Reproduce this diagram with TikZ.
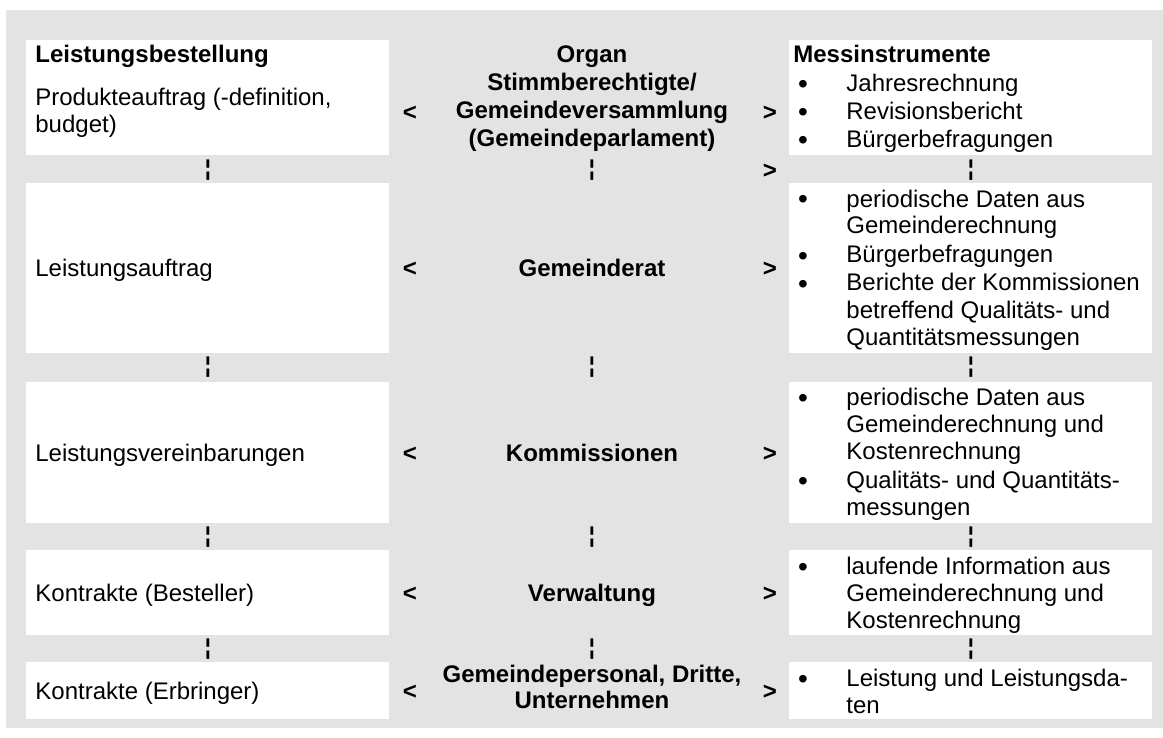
\documentclass[tikz,border=0pt]{standalone}
\usepackage{fontspec}
\setmainfont{Liberation Sans}
\definecolor{bg}{RGB}{227,227,227}
\begin{document}
\begin{tikzpicture}[x=0.5pt,y=-0.5pt,
  t/.style={inner sep=0pt, anchor=base west, font=\fontsize{12}{13.5}\selectfont},
  tb/.style={inner sep=0pt, anchor=base west, font=\fontsize{12}{13.5}\selectfont\bfseries},
  mid/.style={inner sep=0pt, anchor=base, font=\fontsize{12}{14}\selectfont\bfseries},
  arr/.style={inner sep=0pt, anchor=base, font=\fontsize{12}{13.5}\selectfont\bfseries},
  bul/.style={inner sep=0pt, anchor=base, yshift=-1pt, font=\fontsize{14}{14}\selectfont},
  brk/.style={inner sep=0pt, anchor=center, font=\fontsize{11}{12}\selectfont\bfseries},
  whitebox/.style={fill=white}]
\useasboundingbox (0,0) rectangle (1163,738);
\fill[bg] (6,10) rectangle (1163,728);
% white boxes
\foreach \ya/\yb in {40/155,183/353,382/523,550/635,662/719}{
  \fill[whitebox] (26,\ya) rectangle (389,\yb);
  \fill[whitebox] (789,\ya) rectangle (1152,\yb);
}
% left column
\node[tb] (l0) at (35,63) {Leistungsbestellung};
\node[t] (l1a) at (35,106) {Produkteauftrag (-definition,};
\node[t] (l1b) at (35,133) {budget)};
\node[t] (l2) at (35,276.5) {Leistungsauftrag};
\node[t] (l3) at (35,461) {Leistungsvereinbarungen};
\node[t] (l4) at (35,601) {Kontrakte (Besteller)};
\node[t] (l5) at (35,699) {Kontrakte (Erbringer)};
% middle column
\node[mid] (m1a) at (592,63) {Organ};
\node[mid] (m1b) at (592,91) {Stimmberechtigte/};
\node[mid] (m1c) at (592,119) {Gemeindeversammlung};
\node[mid] (m1d) at (592,147) {(Gemeindeparlament)};
\node[mid] (m2) at (592,276.5) {Gemeinderat};
\node[mid] (m3) at (592,461) {Kommissionen};
\node[mid] (m4) at (592,601) {Verwaltung};
\node[mid] (m5a) at (592,682) {Gemeindepersonal, Dritte,};
\node[mid] (m5b) at (592,708) {Unternehmen};
% arrows < >
\foreach \n/\y in {1/121,2/276.5,3/461,4/601,5/699}{
  \node[arr] (lt\n) at (410,\y) {<};
  \node[arr] (gt\n) at (770,\y) {>};
}
\node[arr] (gt0) at (770,178) {>};
% right column
\node[tb] (r0) at (793,63) {Messinstrumente};
\node[bul] (b11) at (803,92) {•};  \node[t] (r11) at (846,92) {Jahresrechnung};
\node[bul] (b12) at (803,120) {•}; \node[t] (r12) at (846,120) {Revisionsbericht};
\node[bul] (b13) at (803,148) {•}; \node[t] (r13) at (846,148) {Bürgerbefragungen};
\node[bul] (b21) at (803,207) {•};
\node[t] (r21a) at (846,207) {periodische Daten aus};
\node[t] (r21b) at (846,234) {Gemeinderechnung};
\node[bul] (b22) at (803,263) {•}; \node[t] (r22) at (846,263) {Bürgerbefragungen};
\node[bul] (b23) at (803,291) {•};
\node[t] (r23a) at (846,291) {Berichte der Kommissionen};
\node[t] (r23b) at (846,318) {betreffend Qualitäts- und};
\node[t] (r23c) at (846,345) {Quantitätsmessungen};
\node[bul] (b31) at (803,405) {•};
\node[t] (r31a) at (846,405) {periodische Daten aus};
\node[t] (r31b) at (846,432) {Gemeinderechnung und};
\node[t] (r31c) at (846,459) {Kostenrechnung};
\node[bul] (b32) at (803,488) {•};
\node[t] (r32a) at (846,488) {Qualitäts- und Quantitäts-};
\node[t] (r32b) at (846,515) {messungen};
\node[bul] (b41) at (803,574) {•};
\node[t] (r41a) at (846,574) {laufende Information aus};
\node[t] (r41b) at (846,601) {Gemeinderechnung und};
\node[t] (r41c) at (846,628) {Kostenrechnung};
\node[bul] (b51) at (803,686) {•};
\node[t] (r51a) at (846,686) {Leistung und Leistungsda-};
\node[t] (r51b) at (846,713) {ten};
% broken bars in gaps
\foreach \g/\y in {1/170,2/367.5,3/537,4/649}{
  \node[brk] (bl\g) at (208,\y) {¦};
  \node[brk] (bm\g) at (592,\y) {¦};
  \node[brk] (br\g) at (971,\y) {¦};
}
\end{tikzpicture}
\end{document}
